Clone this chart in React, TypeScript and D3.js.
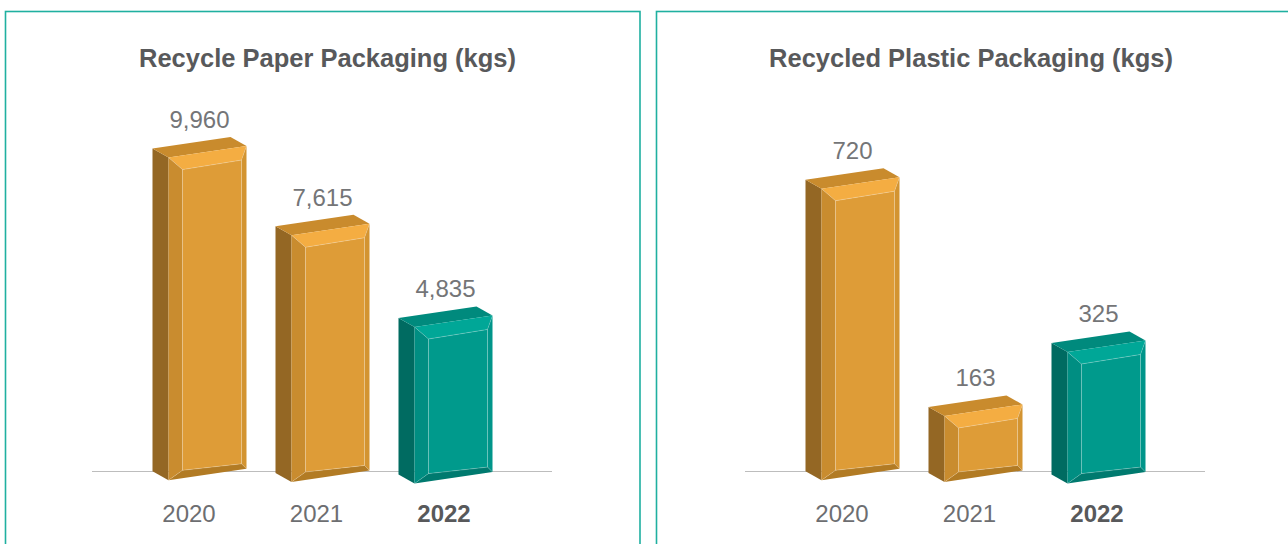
import React from "react";
import * as d3 from "d3";

// ---- data ----
const years = ["2020", "2021", "2022"];
const paperValues = [9960, 7615, 4835];
const plasticValues = [720, 163, 325];
const titles = ["Recycle Paper Packaging (kgs)", "Recycled Plastic Packaging (kgs)"];
const axisMax = [10000, 800];
const highlightYear = "2022";

// ---- styles ----
const ORANGE = {
  front: "#de9c37",
  top: "#f4ad42",
  topFace: "#c98b2d",
  side: "#946724",
  left: "#c98c2f",
  right: "#d39431",
  bottom: "#b27b24",
};
const TEAL = {
  front: "#009a8c",
  top: "#00a797",
  topFace: "#008a7d",
  side: "#006b61",
  left: "#008e82",
  right: "#00958a",
  bottom: "#007a6f",
};

const W = 78; // front face width
const SDX = 16; // depth offset x
const SDY = 9; // depth offset y
const SLOPE = 11.5; // front face tilt
const FONT = "'Liberation Sans', Arial, Helvetica, sans-serif";

type Pt = [number, number];
const poly = (pts: Pt[]) => "M" + pts.map((p) => p.join(",")).join("L") + "Z";

function Bar3D({ L, B, h, c }: { L: number; B: number; h: number; c: typeof ORANGE }) {
  const T = B - h;
  const R = L + W;
  const Tr = T - SLOPE;
  const Br = B - SLOPE;
  const iTL: Pt = [L + 14, T + 12];
  const iTR: Pt = [R - 5, Tr + 14];
  const iBR: Pt = [R - 5, Br - 5];
  const iBL: Pt = [L + 14, B - 10];
  const hl = "rgba(255,255,255,0.28)";
  return (
    <g>
      <path d={poly([[L - SDX, T - SDY], [L, T], [L, B], [L - SDX, B - SDY]])} fill={c.side} />
      <path d={poly([[L - SDX, T - SDY], [R - SDX, Tr - SDY], [R, Tr], [L, T]])} fill={c.topFace} />
      <path d={poly([[L, T], [R, Tr], iTR, iTL])} fill={c.top} />
      <path d={poly([[R, Tr], [R, Br], iBR, iTR])} fill={c.right} />
      <path d={poly([[L, B], [R, Br], iBR, iBL])} fill={c.bottom} />
      <path d={poly([[L, T], iTL, iBL, [L, B]])} fill={c.left} />
      <path d={poly([iTL, iTR, iBR, iBL])} fill={c.front} stroke={hl} strokeWidth={0.8} />
      <path
        d={`M${L},${T}L${iTL.join(",")}M${R},${Tr}L${iTR.join(",")}M${R},${Br}L${iBR.join(",")}M${L},${B}L${iBL.join(",")}`}
        stroke={hl}
        strokeWidth={0.6}
        fill="none"
      />
    </g>
  );
}

function Chart({
  x0,
  values,
  max,
  title,
  titleX,
}: {
  x0: number;
  values: number[];
  max: number;
  title: string;
  titleX: number;
}) {
  const baseY = 471.5;
  const y = d3.scaleLinear().domain([0, max]).range([0, 324]);
  const barX = d3.scalePoint<string>().domain(years).range([x0 + 107.5, x0 + 353.5]);
  const labelX = d3.scalePoint<string>().domain(years).range([x0 + 97, x0 + 352]);
  const fmt = d3.format(",");
  const firstL = (barX(years[0]) as number) - 31;
  return (
    <g>
      <text
        x={titleX}
        y={67}
        textAnchor="middle"
        fontFamily={FONT}
        fontWeight="bold"
        fontSize={25.5}
        fill="#58595b"
      >
        {title}
      </text>
      <line x1={x0} x2={x0 + 460} y1={baseY} y2={baseY} stroke="#bdbdbd" strokeWidth={1} />
      {years.map((yr, i) => {
        const L = (barX(yr) as number) - 31;
        const B = 480.3 + (L - firstL) * 0.0135;
        const h = y(values[i]);
        const c = yr === highlightYear ? TEAL : ORANGE;
        const topY = B - h - SLOPE - SDY;
        return (
          <g key={yr}>
            <Bar3D L={L} B={B} h={h} c={c} />
            <text
              x={barX(yr) as number}
              y={topY - 9}
              textAnchor="middle"
              fontFamily={FONT}
              fontSize={24}
              fill="#747577"
            >
              {fmt(values[i])}
            </text>
          </g>
        );
      })}
      {years.map((yr) => (
        <text
          key={"l" + yr}
          x={labelX(yr) as number}
          y={521.5}
          textAnchor="middle"
          fontFamily={FONT}
          fontSize={24}
          fontWeight={yr === highlightYear ? "bold" : "normal"}
          fill={yr === highlightYear ? "#58595b" : "#6d6e71"}
        >
          {yr}
        </text>
      ))}
    </g>
  );
}

export default function App() {
  return (
    <div style={{ position: "fixed", left: 0, top: 0, width: 1288, height: 544, background: "#fff" }}>
      <svg width={1288} height={544} style={{ display: "block" }}>
        <rect x={5.5} y={11.5} width={634.5} height={600} fill="none" stroke="#1fb0a0" strokeWidth={1.6} />
        <rect x={656.5} y={11.5} width={700} height={600} fill="none" stroke="#1fb0a0" strokeWidth={1.6} />
        <Chart x0={92} values={paperValues} max={axisMax[0]} title={titles[0]} titleX={327.5} />
        <Chart x0={745} values={plasticValues} max={axisMax[1]} title={titles[1]} titleX={971} />
      </svg>
    </div>
  );
}
